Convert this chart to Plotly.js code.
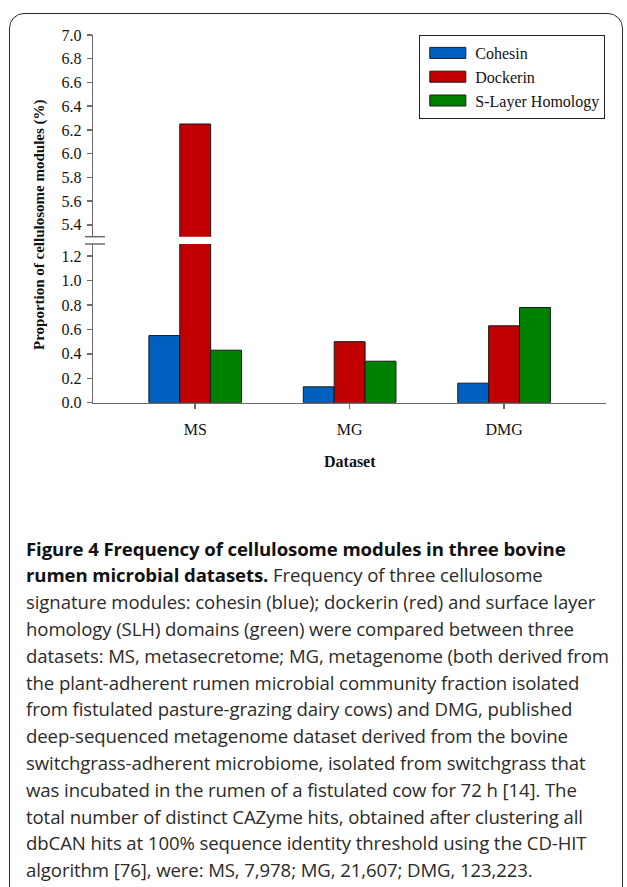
<!DOCTYPE html>
<html><head><meta charset="utf-8">
<script src="https://cdn.plot.ly/plotly-3.0.1.min.js"></script>
<style>
html,body{margin:0;padding:0;background:#fff;}
#wrap{position:relative;width:627px;height:887px;overflow:hidden;background:#fff;}
#chart{position:absolute;left:0;top:0;width:627px;height:887px;}
#frame{position:absolute;left:9px;top:13px;width:614px;height:900px;box-sizing:border-box;border:1.5px solid #2a2a2a;border-radius:15px;pointer-events:none;}
#caption{position:absolute;left:26px;top:535.6px;font-family:'Open Sans',sans-serif;font-size:18.6px;line-height:26.8px;color:#2b2b2b;white-space:nowrap;letter-spacing:-0.1px;}
#caption b{color:#111;}
</style></head>
<body>
<div id="wrap">
<div id="chart"></div>
<div id="frame"></div>
<div id="caption"><b>Figure 4 Frequency of cellulosome modules in three bovine</b><br><b>rumen microbial datasets.</b> Frequency of three cellulosome<br>signature modules: cohesin (blue); dockerin (red) and surface layer<br>homology (SLH) domains (green) were compared between three<br>datasets: MS, metasecretome; MG, metagenome (both derived from<br>the plant-adherent rumen microbial community fraction isolated<br>from fistulated pasture-grazing dairy cows) and DMG, published<br>deep-sequenced metagenome dataset derived from the bovine<br>switchgrass-adherent microbiome, isolated from switchgrass that<br>was incubated in the rumen of a fistulated cow for 72 h [14]. The<br>total number of distinct CAZyme hits, obtained after clustering all<br>dbCAN hits at 100% sequence identity threshold using the CD-HIT<br>algorithm [76], were: MS, 7,978; MG, 21,607; DMG, 123,223.</div>
</div>
<script>
// ---- data ----
const categories = ['MS', 'MG', 'DMG'];
const cohesin = [0.55, 0.13, 0.16];
const dockerin = [6.25, 0.50, 0.63];
const slh = [0.43, 0.34, 0.78];
const seriesNames = ['Cohesin', 'Dockerin', 'S-Layer Homology'];
const seriesValues = [cohesin, dockerin, slh];
const seriesColors = ['#0060C0', '#C00000', '#008000'];
const lowerRange = [0, 1.3];
const upperRange = [5.3, 7.0001];
const xTitle = 'Dataset';
const yTitle = 'Proportion of cellulosome modules (%)';

// ---- layout helpers (pixels -> paper) ----
const W = 627, H = 887;
const px = v => v / W;
const py = v => 1 - v / H;
const serif = 'Liberation Serif, Times New Roman, serif';
const axisGray = '#6b6b6b';

const traces = [];
seriesNames.forEach((name, i) => {
  ['y', 'y2'].forEach(ax => {
    traces.push({
      type: 'bar',
      x: categories,
      y: seriesValues[i],
      name: name,
      legendgroup: name,
      showlegend: ax === 'y',
      yaxis: ax,
      marker: {color: seriesColors[i], line: {color: '#1a1a1a', width: 1}},
      hoverinfo: 'x+y+name'
    });
  });
});

const yCommon = {
  showline: true, linecolor: axisGray, linewidth: 1.5,
  ticks: 'outside', ticklen: 5, tickwidth: 1.5, tickcolor: axisGray,
  tickfont: {family: serif, size: 16, color: '#111'},
  tickformat: '.1f', dtick: 0.2, tick0: 0,
  showgrid: false, zeroline: false, anchor: 'x', fixedrange: true,
  ticklabelstandoff: 2
};

const layout = {
  width: W, height: H,
  margin: {l: 0, r: 0, t: 0, b: 0},
  paper_bgcolor: '#fff', plot_bgcolor: 'rgba(0,0,0,0)',
  barmode: 'group', bargap: 0.4, bargroupgap: 0,
  showlegend: true,
  xaxis: {
    domain: [px(93.3), px(606)],
    type: 'category', range: [-0.66, 2.66],
    showline: true, linecolor: axisGray, linewidth: 1.5,
    ticks: 'outside', ticklen: 5, tickwidth: 1.5, tickcolor: axisGray,
    tickfont: {family: serif, size: 16, color: '#111'},
    showgrid: false, zeroline: false, anchor: 'y', fixedrange: true,
    ticklabelstandoff: 7
  },
  yaxis: Object.assign({}, yCommon, {domain: [py(402.7), py(244)], range: lowerRange}),
  yaxis2: Object.assign({}, yCommon, {domain: [py(236.7), py(35)], range: upperRange}),
  legend: {
    x: px(419.3), y: py(35), xanchor: 'left', yanchor: 'top',
    bordercolor: '#222', borderwidth: 1, bgcolor: '#fff',
    font: {family: serif, size: 16, color: '#111'},
    itemwidth: 45, tracegroupgap: 0, traceorder: 'normal'
  },
  annotations: [
    {text: '<b>' + yTitle + '</b>', xref: 'paper', yref: 'paper', x: px(40), y: py(225),
     textangle: -90, showarrow: false, xanchor: 'center', yanchor: 'middle',
     font: {family: serif, size: 15, color: '#111'}},
    {text: '<b>' + xTitle + '</b>', xref: 'paper', yref: 'paper', x: px(350), y: py(461),
     showarrow: false, xanchor: 'center', yanchor: 'middle',
     font: {family: serif, size: 16, color: '#111'}}
  ],
  shapes: [
    {type: 'line', xref: 'paper', yref: 'y2 domain', x0: px(85), x1: px(105), y0: 0, y1: 0,
     line: {color: axisGray, width: 1.5}},
    {type: 'line', xref: 'paper', yref: 'y domain', x0: px(85), x1: px(105), y0: 1, y1: 1,
     line: {color: axisGray, width: 1.5}}
  ]
};

Plotly.newPlot('chart', traces, layout, {displayModeBar: false, staticPlot: true}).then(() => {
  document.querySelectorAll('#chart .legendpoints path').forEach(p => {
    p.setAttribute('d', 'M18,5.5H-18V-5.5H18Z');
  });
});
</script>
</body></html>
